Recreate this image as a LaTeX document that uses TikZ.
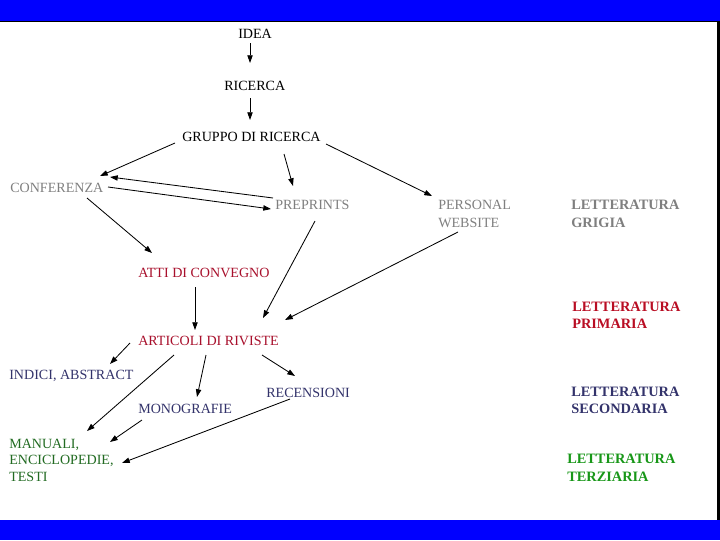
\documentclass[tikz,border=0pt]{standalone}
\usepackage{fontspec}
\setmainfont{Liberation Serif}
\usetikzlibrary{arrows.meta}

\definecolor{barblue}{HTML}{0000FF}
\definecolor{greytext}{HTML}{7F7F7F}
\definecolor{redtext}{HTML}{A8102C}
\definecolor{navytext}{HTML}{33336B}
\definecolor{greentext}{HTML}{226B22}

\begin{document}
\begin{tikzpicture}[
  x=0.025cm,
  y=-0.025cm,
  font=\fontsize{10}{12.5}\selectfont,
  item/.style={anchor=base west, inner sep=0pt, align=left},
  legend/.style={item, font=\fontsize{10.2}{11.8}\selectfont\bfseries},
  link/.style={draw=black, line width=0.6pt,
    -{Triangle[length=5.5pt,width=3.8pt]}}
]

\useasboundingbox (0,0) rectangle (720,540);
\fill[barblue] (0,0) rectangle (720,21);
\fill[barblue] (0,520) rectangle (720,540);
\draw[line width=0.7pt] (0,21) -- (717,21);
\fill[black] (717,21) rectangle (720,520);

% Flow of the research, from the idea down to the tertiary sources.
% (multi-line nodes sit on the baseline of their last line)
\node[item] (idea) at (238,38.5) {IDEA};
\node[item] (ricerca) at (224,90) {RICERCA};
\node[item] (gruppo) at (182,141.5) {GRUPPO DI RICERCA};
\node[item, text=greytext] (conf) at (10,192.5) {CONFERENZA};
\node[item, text=greytext] (prep) at (275,209) {PREPRINTS};
\node[item, text=greytext] (pers) at (438,227) {PERSONAL\\WEBSITE};
\node[item, text=redtext] (atti) at (138,277) {ATTI DI CONVEGNO};
\node[item, text=redtext] (art) at (138,345) {ARTICOLI DI RIVISTE};
\node[item, text=navytext] (indici) at (9,379) {INDICI, ABSTRACT};
\node[item, text=navytext] (rec) at (266,397) {RECENSIONI};
\node[item, text=navytext] (mono) at (138,413) {MONOGRAFIE};
\node[item, text=greentext, font=\fontsize{10}{11.9}\selectfont] (man) at (9,481.5)
  {MANUALI,\\ENCICLOPEDIE,\\TESTI};

\draw[link] ([shift={(12,4.5)}]idea.base west) -- ([shift={(26,-27)}]ricerca.base west);
\draw[link] ([shift={(26,8)}]ricerca.base west) -- ([shift={(68,-21.5)}]gruppo.base west);
\draw[link] ([shift={(-7,1.5)}]gruppo.base west) -- ([shift={(90,-16.5)}]conf.base west);
\draw[link] ([shift={(102,12.5)}]gruppo.base west) -- ([shift={(18,-23)}]prep.base west);
\draw[link] ([shift={(144,2.5)}]gruppo.base west) -- ([shift={(-6,-31)}]pers.base west);
\draw[link] ([shift={(-2,-11)}]prep.base west) -- ([shift={(100,-15.5)}]conf.base west);
\draw[link] ([shift={(98,-5.5)}]conf.base west) -- ([shift={(-4,0)}]prep.base west);
\draw[link] ([shift={(77,5.5)}]conf.base west) -- ([shift={(14,-24)}]atti.base west);
\draw[link] ([shift={(40,12)}]prep.base west) -- ([shift={(125,-27)}]art.base west);
\draw[link] ([shift={(20,5)}]pers.base west) -- ([shift={(147,-25)}]art.base west);
\draw[link] ([shift={(57,10)}]atti.base west) -- ([shift={(57,-15)}]art.base west);
\draw[link] ([shift={(-8,-2)}]art.base west) -- ([shift={(101,-15)}]indici.base west);
\draw[link] ([shift={(68,10)}]art.base west) -- ([shift={(59,-16)}]mono.base west);
\draw[link] ([shift={(124,10)}]art.base west) -- ([shift={(29,-21)}]rec.base west);
\draw[link] ([shift={(36,10)}]art.base west) -- ([shift={(78,-50.5)}]man.base west);
\draw[link] ([shift={(4,7)}]mono.base west) -- ([shift={(101,-39.5)}]man.base west);
\draw[link] ([shift={(24,2)}]rec.base west) -- ([shift={(113,-18.5)}]man.base west);

% Legend of the four kinds of literature.
\node[legend, text=greytext, font=\fontsize{10.2}{12.8}\selectfont\bfseries]
  (grigia) at (571,227) {LETTERATURA\\GRIGIA};
\node[legend, text=redtext!80!red] (primaria) at (572,328) {LETTERATURA\\PRIMARIA};
\node[legend, text=navytext] (secondaria) at (571,413) {LETTERATURA\\SECONDARIA};
\node[legend, text=greentext!70!green, font=\fontsize{10.2}{12.5}\selectfont\bfseries]
  (terziaria) at (567,481.5) {LETTERATURA\\TERZIARIA};

\end{tikzpicture}
\end{document}
